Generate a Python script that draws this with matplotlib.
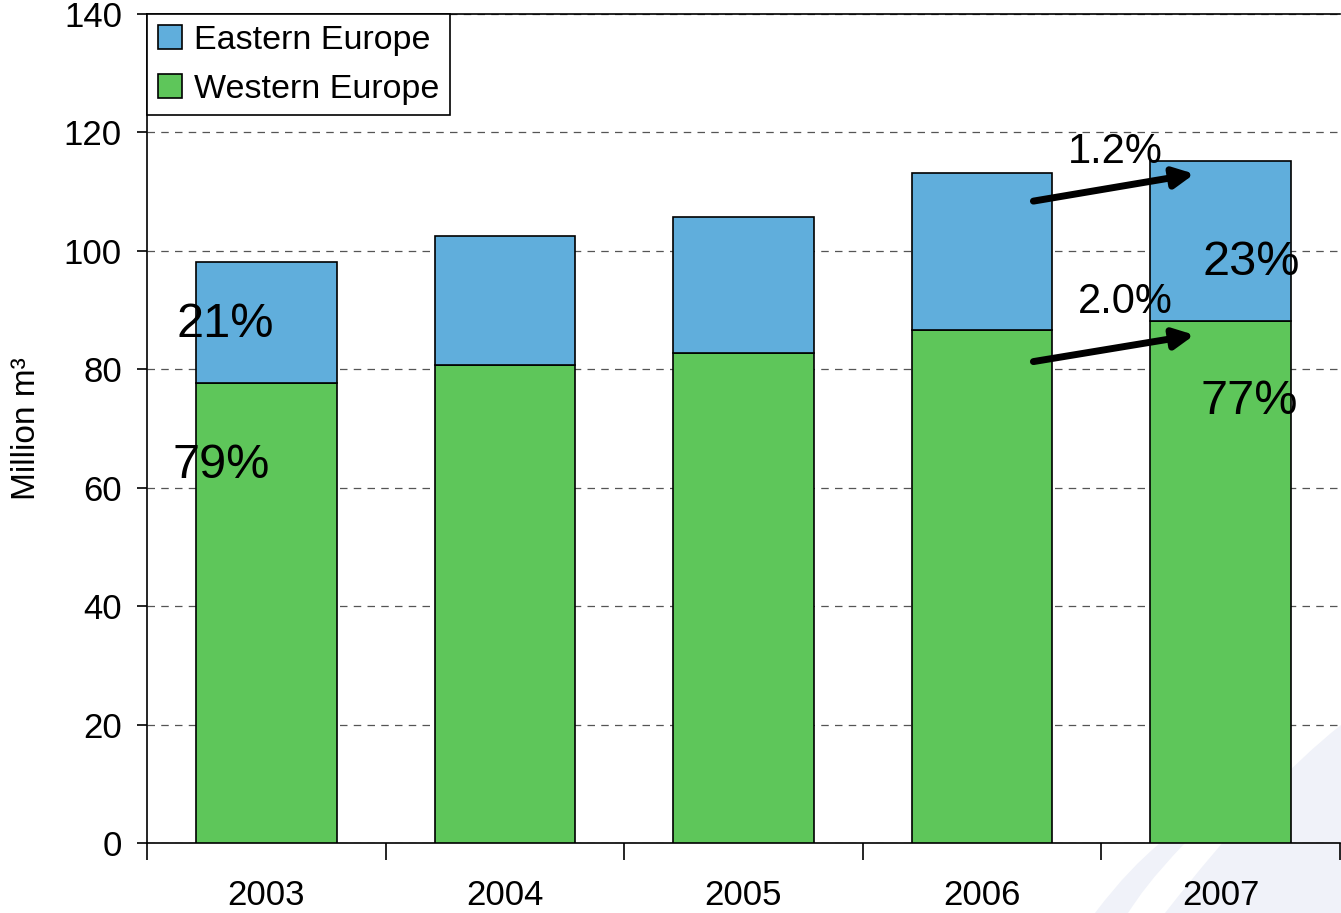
import matplotlib
matplotlib.use("Agg")
import matplotlib.pyplot as plt
from matplotlib.path import Path
from matplotlib.patches import PathPatch
import numpy as np

plt.rcParams["font.family"] = ["Liberation Sans", "DejaVu Sans"]

years = ["2003", "2004", "2005", "2006", "2007"]
western = [77.7, 80.7, 82.8, 86.6, 88.2]
eastern = [20.4, 21.8, 22.9, 26.6, 27.0]

blue = "#60AEDC"
green = "#5EC65A"

fig = plt.figure(figsize=(13.41, 9.13), dpi=100)

# faint watermark swoosh in the lower right corner (figure pixel coords)
W, H = 1341.0, 913.0
def fp(x, y):
    return (x / W, 1 - y / H)

main = [fp(1165, 913), fp(1230, 830), fp(1290, 765), fp(1341, 725),
        fp(1341, 913), fp(1165, 913)]
sliver = [fp(1095, 913), fp(1120, 880), fp(1140, 860), fp(1160, 843),
          fp(1185, 843), fp(1150, 880), fp(1140, 895), fp(1128, 913), fp(1095, 913)]
codes = [Path.MOVETO, Path.CURVE4, Path.CURVE4, Path.CURVE4, Path.LINETO, Path.CLOSEPOLY]
fig.patches.append(PathPatch(Path(main, codes), transform=fig.transFigure,
                             facecolor="#F0F2F9", edgecolor="none", zorder=-2))
codes2 = [Path.MOVETO, Path.CURVE4, Path.CURVE4, Path.CURVE4, Path.LINETO,
          Path.CURVE4, Path.CURVE4, Path.CURVE4, Path.CLOSEPOLY]
fig.patches.append(PathPatch(Path(sliver, codes2), transform=fig.transFigure,
                             facecolor="#F0F2F9", edgecolor="none", zorder=-2))

ax = fig.add_axes([147 / W, 1 - 843 / H, (1340 - 147) / W, (843 - 14) / H])
ax.patch.set_alpha(0)

x = np.arange(len(years))
ax.bar(x, western, width=0.59, color=green, edgecolor="black", linewidth=1.2,
       label="Western Europe", zorder=3)
ax.bar(x, eastern, width=0.59, bottom=western, color=blue, edgecolor="black",
       linewidth=1.2, label="Eastern Europe", zorder=3)

ax.set_xlim(-0.5, len(years) - 0.5)
ax.set_ylim(0, 140)
ax.set_yticks(range(0, 141, 20))
ax.yaxis.grid(True, linestyle=(0, (6, 5)), color="#555555", linewidth=0.9, zorder=0)
ax.set_axisbelow(True)

ax.set_xticks(np.arange(-0.5, len(years)), minor=False)
ax.set_xticklabels([])
ax.set_xticks(x, minor=True)
ax.set_xticklabels(years, minor=True)
ax.tick_params(axis="x", which="major", direction="out", length=12, width=1.2)
ax.tick_params(axis="x", which="minor", length=0, pad=26, labelsize=25)
ax.tick_params(axis="y", direction="out", length=7, width=1.2, labelsize=25, pad=11)

for s in ax.spines.values():
    s.set_linewidth(1.2)
ax.spines["right"].set_visible(False)

ax.set_ylabel("Million m\u00b3", fontsize=24, labelpad=16)

h, l = ax.get_legend_handles_labels()
leg = ax.legend(h[::-1], l[::-1], loc="upper left", bbox_to_anchor=(0, 1),
                borderaxespad=0, fontsize=24.5, fancybox=False, framealpha=1,
                edgecolor="black", handlelength=0.7, handleheight=0.7,
                handletextpad=0.35, labelspacing=0.52, borderpad=0.32)
leg.get_frame().set_linewidth(1.2)
for p in leg.get_patches():
    p.set_edgecolor("black")

# share labels and growth annotations
ax.text(-0.17, 87.5, "21%", fontsize=35, ha="center", va="center", zorder=5)
ax.text(-0.19, 63.7, "79%", fontsize=35, ha="center", va="center", zorder=5)
ax.text(4.13, 98.1, "23%", fontsize=35, ha="center", va="center", zorder=5)
ax.text(4.12, 74.5, "77%", fontsize=35, ha="center", va="center", zorder=5)
ax.text(3.56, 116.7, "1.2%", fontsize=30, ha="center", va="center", zorder=5)
ax.text(3.60, 91.4, "2.0%", fontsize=30, ha="center", va="center", zorder=5)

arrow = dict(arrowstyle="-|>,head_length=1.2,head_width=0.6", color="black", lw=5,
             shrinkA=0, shrinkB=0)
ax.annotate("", xy=(3.89, 113.0), xytext=(3.215, 108.4), arrowprops=arrow, zorder=6)
ax.annotate("", xy=(3.89, 85.8), xytext=(3.215, 81.3), arrowprops=arrow, zorder=6)

fig.savefig("out.png", dpi=100)
